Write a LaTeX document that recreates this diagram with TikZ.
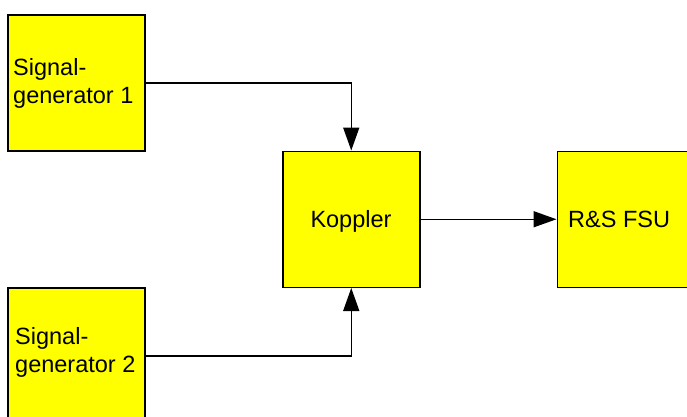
\documentclass[tikz,border=0pt]{standalone}
\usepackage{fontspec}
\setmainfont{Liberation Sans}
\usetikzlibrary{arrows.meta}
\definecolor{boxyellow}{RGB}{255,255,0}
\begin{document}
\begin{tikzpicture}[x=1pt,y=-1pt,
  blk/.style={draw=black, line width=1.5pt, fill=boxyellow, minimum width=137pt, minimum height=136pt, inner sep=0pt, anchor=north west},
  lbl/.style={font=\fontsize{23.5}{28}\selectfont, align=left, inner sep=0pt},
  conn/.style={line width=1.5pt, -{Triangle[length=23pt,width=16pt]}}]
\useasboundingbox (0,0) rectangle (687,416);
\node[blk] (g1) at (7,14) {};
\node[blk] (g2) at (7,287) {};
\node[blk] (k) at (282,150.5) {};
\node[blk] (f) at (556.5,150.5) {};
\node[lbl, anchor=west] (t1) at (13,83) {Signal-\\generator 1};
\node[lbl, anchor=west] (t2) at (15,352) {Signal-\\generator 2};
\node[lbl, anchor=base] (tk) at (351,227) {Koppler};
\node[lbl, anchor=base west] (tf) at (568,227) {R\&S FSU};
\draw[conn] (g1.east) -| (k.north);
\draw[conn] (g2.east) -| (k.south);
\draw[conn] (k.east) -- (f.west);
\end{tikzpicture}
\end{document}
